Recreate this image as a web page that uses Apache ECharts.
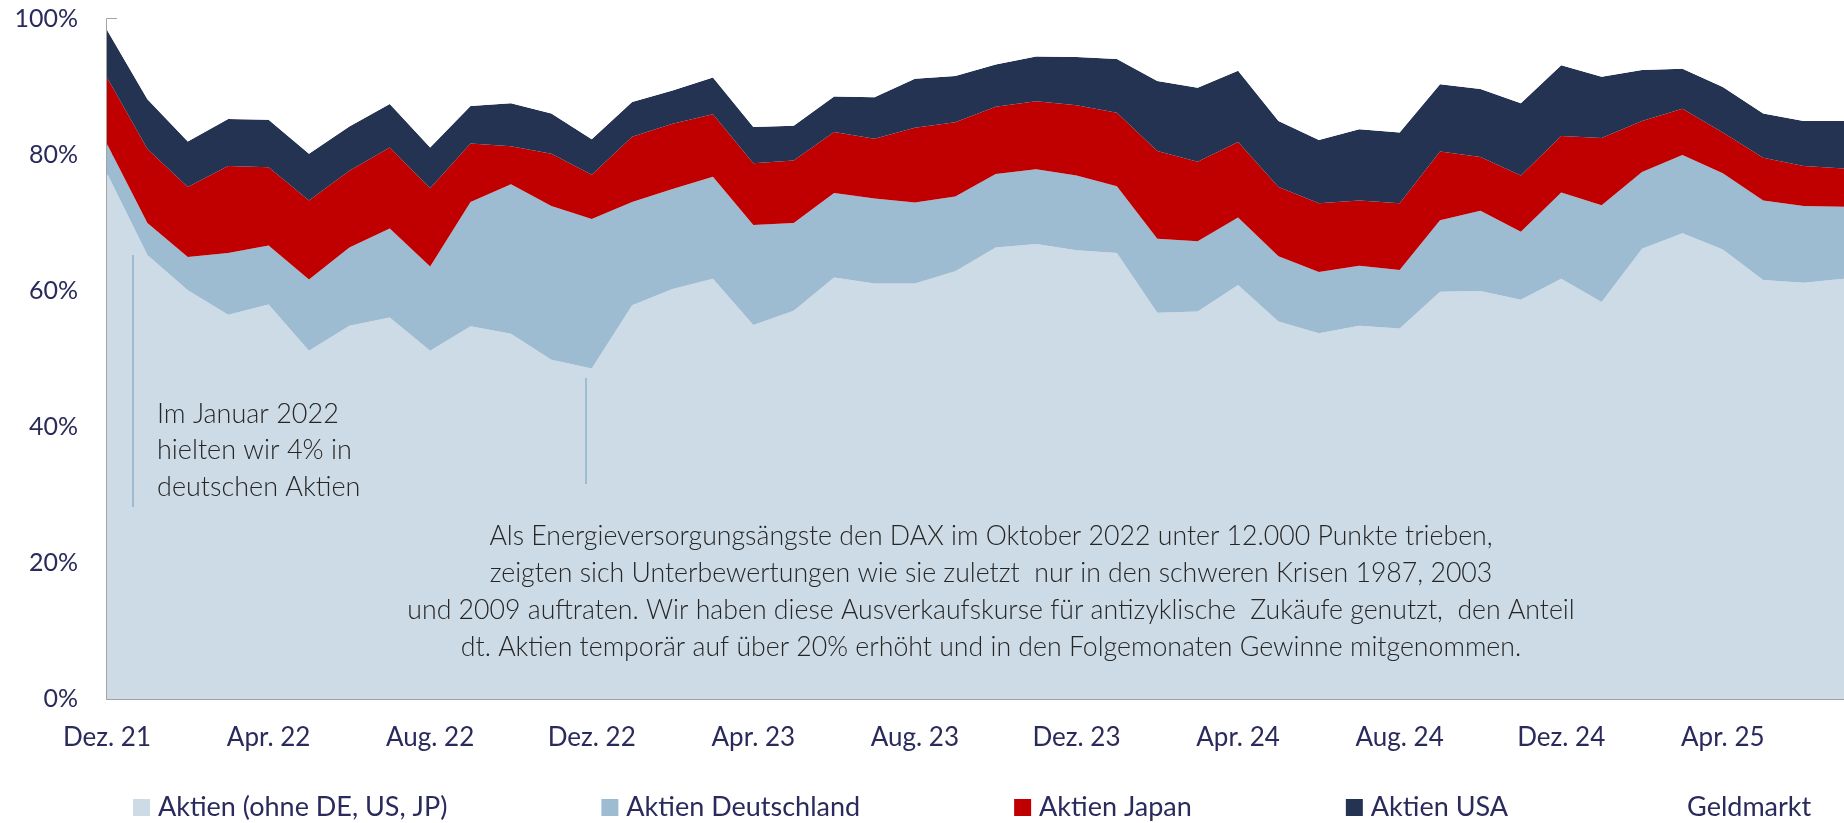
<!DOCTYPE html>
<html>
<head>
<meta charset="utf-8">
<style>
html,body{margin:0;padding:0;background:#fff;}
#chart{width:1844px;height:823px;}
</style>
<script src="https://cdn.jsdelivr.net/npm/echarts@6/dist/echarts.min.js"></script>
</head>
<body>
<div id="chart"></div>
<script>
var months = ["Dez. 21",
  "Jan. 22","Feb. 22","Mär. 22","Apr. 22","Mai 22","Jun. 22","Jul. 22","Aug. 22","Sep. 22","Okt. 22","Nov. 22","Dez. 22",
  "Jan. 23","Feb. 23","Mär. 23","Apr. 23","Mai 23","Jun. 23","Jul. 23","Aug. 23","Sep. 23","Okt. 23","Nov. 23","Dez. 23",
  "Jan. 24","Feb. 24","Mär. 24","Apr. 24","Mai 24","Jun. 24","Jul. 24","Aug. 24","Sep. 24","Okt. 24","Nov. 24","Dez. 24",
  "Jan. 25","Feb. 25","Mär. 25","Apr. 25","Mai 25","Jun. 25","Jul. 25"];

var seriesNames = ["Aktien (ohne DE, US, JP)","Aktien Deutschland","Aktien Japan","Aktien USA","Geldmarkt"];

var aktienWelt = [77.3,65.3,60.1,56.5,58.0,51.2,54.9,56.1,51.2,54.8,53.7,49.9,48.6,
  57.9,60.3,61.8,55.0,57.1,62.0,61.1,61.1,62.9,66.4,66.9,66.0,
  65.6,56.8,57.0,60.9,55.5,53.8,54.9,54.5,59.9,60.0,58.7,61.8,
  58.4,66.2,68.5,66.1,61.6,61.2,61.8];

var aktienDE = [4.3,4.7,4.9,9.1,8.7,10.5,11.5,13.1,12.4,18.3,22.0,22.6,22.0,
  15.2,14.7,15.0,14.7,12.9,12.4,12.5,11.9,11.0,10.8,11.0,11.0,
  9.8,10.9,10.3,9.9,9.6,9.0,8.8,8.6,10.5,11.8,10.0,12.7,
  14.2,11.3,11.5,11.2,11.7,11.3,10.6];

var aktienJP = [9.8,10.9,10.3,12.8,11.5,11.6,11.3,11.9,11.5,8.6,5.6,7.7,6.5,
  9.6,9.6,9.2,9.1,9.2,9.0,8.8,11.0,10.9,9.9,10.0,10.3,
  10.8,12.9,11.7,11.1,10.2,10.1,9.6,9.8,10.1,7.9,8.3,8.3,
  9.9,7.5,6.8,6.0,6.3,5.9,5.6];

var aktienUSA = [7.0,7.3,6.7,6.9,7.0,6.9,6.5,6.4,6.0,5.5,6.3,5.9,5.2,
  5.1,4.9,5.4,5.3,5.1,5.2,6.1,7.2,6.8,6.2,6.6,7.1,
  7.9,10.3,10.9,10.5,9.7,9.3,10.5,10.4,9.9,10.0,10.6,10.4,
  9.0,7.5,5.9,6.7,6.5,6.6,7.0];

var geldmarkt = [1.6,11.8,18.0,14.7,14.8,19.8,15.8,12.5,18.9,12.8,12.4,13.9,17.7,
  12.2,10.5,8.6,15.9,15.7,11.4,11.5,8.8,8.4,6.7,5.5,5.6,
  5.9,9.1,10.1,7.6,15.0,17.8,16.2,16.7,9.6,10.3,12.4,6.8,
  8.5,7.5,7.3,10.0,13.9,15.0,15.0];

var yTicks = [0,20,40,60,80,100];

var colors = ["#cddbe6","#9ebcd1","#c00000","#253352","#ffffff"];
var textNavy = "#2a2a5c";
var axisGray = "#a3a3a3";
var fontFam = "Lato, 'Noto Sans', sans-serif";

var note1 = "Im Januar 2022\nhielten wir 4% in\ndeutschen Aktien";
var note2 = "Als Energieversorgungsängste den DAX im Oktober 2022 unter 12.000 Punkte trieben,\n" +
  "zeigten sich Unterbewertungen wie sie zuletzt  nur in den schweren Krisen 1987, 2003\n" +
  "und 2009 auftraten. Wir haben diese Ausverkaufskurse für antizyklische  Zukäufe genutzt,  den Anteil\n" +
  "dt. Aktien temporär auf über 20% erhöht und in den Folgemonaten Gewinne mitgenommen.";

var dataSets = [aktienWelt, aktienDE, aktienJP, aktienUSA, geldmarkt];

var chart = echarts.init(document.getElementById('chart'), null, {renderer:'canvas'});

var series = dataSets.map(function(d, i){
  return {
    name: seriesNames[i],
    type: 'line',
    stack: 'total',
    data: d,
    symbol: 'none',
    showSymbol: false,
    lineStyle: {width: 0, color: colors[i]},
    itemStyle: {color: colors[i]},
    areaStyle: {color: colors[i], opacity: 1},
    emphasis: {disabled: true},
    z: 2
  };
});

function everyFourth(idx){ return idx % 4 === 0; }

chart.setOption({
  animation: false,
  backgroundColor: '#ffffff',
  grid: {left: 107, right: 0, top: 19, bottom: 124, containLabel: false},
  legend: {
    data: seriesNames.map(function(n, i){ return {name: n, icon: 'rect', itemStyle: {color: colors[i]}}; }),
    left: 133,
    top: 794,
    padding: 0,
    itemWidth: 17,
    itemHeight: 17,
    itemGap: 154,
    selectedMode: false,
    textStyle: {color: textNavy, fontSize: 27, fontFamily: fontFam, padding: [0,0,0,3]}
  },
  xAxis: {
    type: 'category',
    data: months,
    boundaryGap: false,
    axisLine: {show: true, lineStyle: {color: axisGray, width: 2}},
    axisTick: {show: true, inside: true, length: 10, interval: everyFourth, lineStyle: {color: axisGray, width: 2}},
    axisLabel: {interval: everyFourth, color: textNavy, fontSize: 26, fontFamily: fontFam, margin: 26},
    splitLine: {show: false}
  },
  yAxis: {
    type: 'value',
    min: yTicks[0],
    max: yTicks[yTicks.length-1],
    interval: 20,
    axisLine: {show: true, lineStyle: {color: axisGray, width: 2}},
    axisTick: {show: true, inside: true, length: 10, lineStyle: {color: axisGray, width: 2}},
    axisLabel: {color: textNavy, fontSize: 25, fontFamily: fontFam, margin: 29, formatter: '{value}%'},
    splitLine: {show: false}
  },
  graphic: [
    {type: 'line', z: 100, shape: {x1: 133, y1: 255, x2: 133, y2: 507}, style: {stroke: '#9ebcd1', lineWidth: 2}},
    {type: 'line', z: 100, shape: {x1: 586, y1: 378, x2: 586, y2: 484}, style: {stroke: '#9ebcd1', lineWidth: 2}},
    {type: 'text', z: 100, left: 157, top: 396,
      style: {text: note1, fill: '#262626', font: '300 27px ' + fontFam, lineHeight: 36.5}},
    {type: 'text', z: 100, x: 991, y: 518,
      style: {text: note2, fill: '#262626', font: '300 26.7px ' + fontFam, lineHeight: 37, textAlign: 'center', textVerticalAlign: 'top'}}
  ],
  series: series
});
</script>
</body>
</html>
